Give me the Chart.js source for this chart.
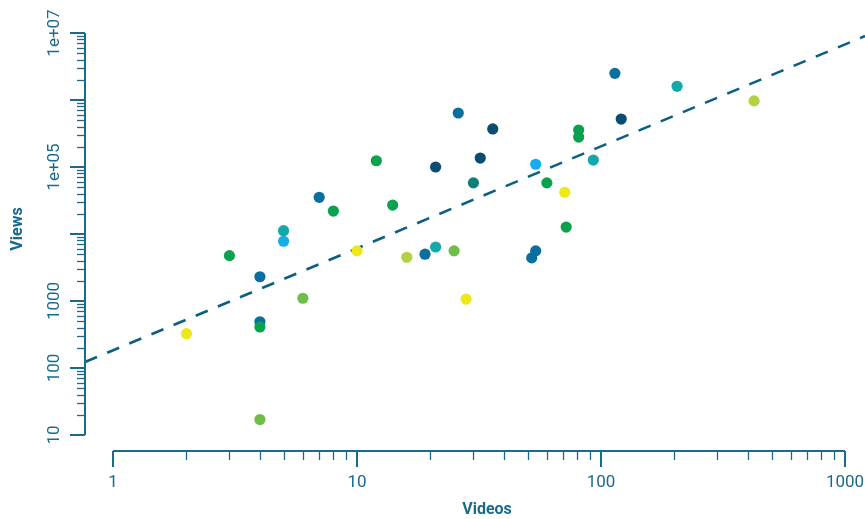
<!DOCTYPE html>
<html>
<head>
<meta charset="utf-8">
<script src="https://cdn.jsdelivr.net/npm/chart.js@4/dist/chart.umd.min.js"></script>
<style>
  html, body { margin: 0; padding: 0; background: #fff; }
  #wrap { width: 865px; height: 519px; }
</style>
</head>
<body>
<div id="wrap"><canvas id="myChart" width="865" height="519"></canvas></div>
<script>
// videos per channel vs total views (log-log)
var videos = [2, 3, 4, 4, 4, 4, 5, 5, 6, 7, 8, 10, 12, 14, 16, 19, 21, 21, 25, 26, 28, 30, 32, 36, 52, 54, 54, 60, 71, 72, 81, 81, 93, 114, 121, 205, 424];
var views = [325, 4750, 2300, 490, 410, 17, 11200, 7800, 1100, 35300, 22000, 5600, 124000, 27000, 4500, 5000, 100000, 6400, 5600, 640000, 1070, 58000, 136000, 370000, 4400, 5600, 110000, 58000, 42000, 12700, 356000, 280000, 127000, 2500000, 520000, 1600000, 970000];
var groups = ['F', 'A', 'B', 'B', 'A', 'D', 'C', 'G', 'D', 'B', 'A', 'F', 'A', 'A', 'E', 'B', 'H', 'C', 'D', 'B', 'F', 'I', 'H', 'H', 'B', 'B', 'G', 'A', 'F', 'A', 'A', 'A', 'C', 'B', 'H', 'C', 'E'];

// regression line end points
var trendX = [0.7677, 1207.8];
var trendY = [123, 9.0e6];

var xTickValues = [1, 10, 100, 1000];
var xTickLabels = ['1', '10', '100', '1000'];
var yMajorValues = [10, 100, 1000, 10000, 100000, 1000000, 10000000];
var yLabelValues = [10, 100, 1000, 100000, 10000000];
var yLabelTexts = ['10', '100', '1000', '1e+05', '1e+07'];

var palette = {
  A: '#0aa24e', B: '#0a6e9e', C: '#14a9a9', D: '#6fbe4a', E: '#b4d140',
  F: '#eee81a', G: '#16aeea', H: '#0b4c73', I: '#0b7f78'
};
var axisColor = '#1b6a8c';

var datasets = [];
Object.keys(palette).forEach(function (g) {
  var pts = [];
  for (var i = 0; i < videos.length; i++) {
    if (groups[i] === g) pts.push({ x: videos[i], y: views[i] });
  }
  datasets.push({
    type: 'scatter',
    data: pts,
    pointRadius: 5.6,
    pointBorderWidth: 0,
    backgroundColor: palette[g],
    borderColor: palette[g]
  });
});
datasets.push({
  type: 'line',
  data: trendX.map(function (x, i) { return { x: x, y: trendY[i] }; }),
  borderColor: '#0c5f82',
  borderWidth: 2.6,
  borderDash: [13, 11],
  pointRadius: 0,
  fill: false
});

var axesPlugin = {
  id: 'axesPlugin',
  afterDraw: function (chart) {
    var ctx = chart.ctx;
    var xs = chart.scales.x, ys = chart.scales.y;
    var yAxisX = chart.chartArea.left;
    var xAxisY = 451;
    ctx.save();
    ctx.strokeStyle = axisColor;
    ctx.fillStyle = axisColor;

    // y axis
    var yTop = ys.getPixelForValue(1e7), yBot = ys.getPixelForValue(10);
    ctx.lineWidth = 2;
    ctx.beginPath();
    ctx.moveTo(yAxisX, yTop); ctx.lineTo(yAxisX, yBot);
    ctx.stroke();
    yMajorValues.forEach(function (v) {
      var p = Math.round(ys.getPixelForValue(v));
      ctx.lineWidth = 2;
      ctx.beginPath(); ctx.moveTo(yAxisX - 15, p); ctx.lineTo(yAxisX, p); ctx.stroke();
      if (v < 1e7) {
        for (var m = 2; m <= 9; m++) {
          var q = Math.round(ys.getPixelForValue(v * m)) + 0.5;
          ctx.lineWidth = 1.3;
          ctx.beginPath(); ctx.moveTo(yAxisX - 8, q); ctx.lineTo(yAxisX, q); ctx.stroke();
        }
      }
    });
    ctx.font = '17px Roboto';
    ctx.textAlign = 'center';
    ctx.textBaseline = 'middle';
    yLabelValues.forEach(function (v, i) {
      var p = ys.getPixelForValue(v);
      ctx.save();
      ctx.translate(55, p);
      ctx.rotate(-Math.PI / 2);
      ctx.fillText(yLabelTexts[i], 0, 0);
      ctx.restore();
    });

    // x axis
    var xl = xs.getPixelForValue(1), xr = xs.getPixelForValue(1000);
    ctx.lineWidth = 2;
    ctx.beginPath();
    ctx.moveTo(xl, xAxisY); ctx.lineTo(xr, xAxisY);
    ctx.stroke();
    xTickValues.forEach(function (v, i) {
      var p = Math.round(xs.getPixelForValue(v));
      ctx.lineWidth = 2;
      ctx.beginPath(); ctx.moveTo(p, xAxisY); ctx.lineTo(p, xAxisY + 16); ctx.stroke();
      if (v < 1000) {
        for (var m = 2; m <= 9; m++) {
          var q = Math.round(xs.getPixelForValue(v * m)) + 0.5;
          ctx.lineWidth = 1.3;
          ctx.beginPath(); ctx.moveTo(q, xAxisY); ctx.lineTo(q, xAxisY + 9); ctx.stroke();
        }
      }
      ctx.fillText(xTickLabels[i], p, 483);
    });

    // titles
    ctx.font = 'bold 16px Roboto';
    ctx.fillText('Videos', 487, 510);
    ctx.save();
    ctx.translate(18, 229);
    ctx.rotate(-Math.PI / 2);
    ctx.fillText('Views', 0, 0);
    ctx.restore();
    ctx.restore();
  }
};

new Chart(document.getElementById('myChart'), {
  type: 'scatter',
  data: { datasets: datasets },
  options: {
    responsive: false,
    animation: false,
    devicePixelRatio: 1,
    layout: { autoPadding: false, padding: { left: 85, top: 33, right: 0, bottom: 84 } },
    scales: {
      x: { type: 'logarithmic', min: trendX[0], max: trendX[1], display: false },
      y: { type: 'logarithmic', min: 10, max: 1e7, display: false }
    },
    plugins: { legend: { display: false }, tooltip: { enabled: false } }
  },
  plugins: [axesPlugin]
});
</script>
</body>
</html>
